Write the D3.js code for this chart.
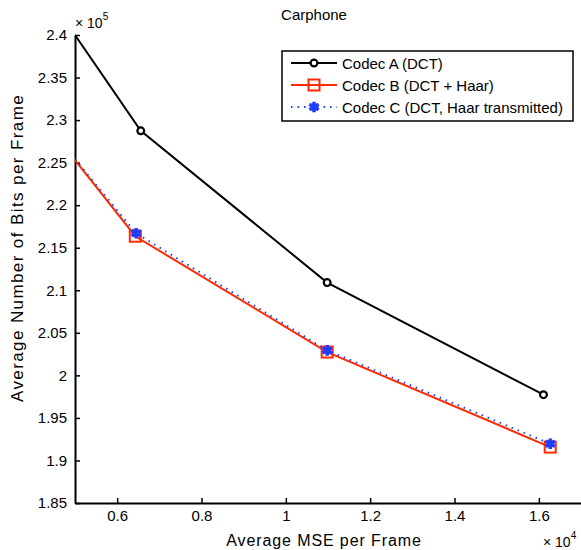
<!DOCTYPE html>
<html>
<head>
<meta charset="utf-8">
<script src="https://cdn.jsdelivr.net/npm/d3@7"></script>
<style>
  body { margin: 0; background: #fff; }
  svg text { font-family: "Liberation Sans", Arial, sans-serif; fill: #000; }
</style>
</head>
<body>
<div class="box"></div>
<script>
// values (x in 1e4, y in 1e5)
const mseA = [0.5, 0.656, 1.098, 1.611]
const bitsA = [2.4, 2.2874, 2.109, 1.9773]
const mseB = [0.5, 0.643, 1.098, 1.627]
const bitsB = [2.253, 2.1635, 2.0274, 1.9157]
const mseC = [0.5, 0.645, 1.098, 1.627]
const bitsC = [2.254, 2.167, 2.0294, 1.9196]

const seriesNames = ['Codec A (DCT)', 'Codec B (DCT + Haar)', 'Codec C (DCT, Haar transmitted)']
const xTicks = [0.6, 0.8, 1, 1.2, 1.4, 1.6]
const yTicks = [1.85, 1.9, 1.95, 2, 2.05, 2.1, 2.15, 2.2, 2.25, 2.3, 2.35, 2.4]

const boxWidth = 581
const boxHeight = 550
const plotLeft = 75, plotRight = 581, plotTop = 35, plotBottom = 503

const x = d3.scaleLinear().domain([0.5, 1.7]).range([plotLeft, plotRight])
const y = d3.scaleLinear().domain([1.85, 2.4]).range([plotBottom, plotTop])

const svg = d3.select('.box')
    .append('svg')
    .attr('width', boxWidth)
    .attr('height', boxHeight)

svg.append('defs').append('clipPath').attr('id', 'plotclip')
    .append('rect')
    .attr('x', plotLeft).attr('y', plotTop - 1)
    .attr('width', plotRight - plotLeft).attr('height', plotBottom - plotTop + 2)

// axes
const xAxis = svg.append('g')
    .attr('transform', `translate(0, ${plotBottom})`)
    .call(d3.axisBottom(x).tickValues(xTicks).tickSizeInner(-5).tickSizeOuter(0).tickPadding(7)
        .tickFormat(d => String(+d.toFixed(1))))
const yAxis = svg.append('g')
    .attr('transform', `translate(${plotLeft}, 0)`)
    .call(d3.axisLeft(y).tickValues(yTicks).tickSizeInner(-5).tickSizeOuter(0).tickPadding(8)
        .tickFormat(d => String(+d.toFixed(2))))

;[xAxis, yAxis].forEach(a => {
    a.select('.domain').attr('stroke', '#000').attr('stroke-width', 2)
    a.selectAll('.tick line').attr('stroke', '#000').attr('stroke-width', 1.5)
    a.selectAll('.tick text').attr('font-size', 15).attr('fill', '#000')
})

// text
svg.append('text').attr('x', 314).attr('y', 20).attr('text-anchor', 'middle')
    .attr('font-size', 15).text('Carphone')
svg.append('text').attr('x', 324).attr('y', 546).attr('text-anchor', 'middle')
    .attr('font-size', 16).attr('letter-spacing', 0.9).text('Average MSE per Frame')
svg.append('text').attr('transform', 'translate(23, 248) rotate(-90)').attr('text-anchor', 'middle')
    .attr('font-size', 17).attr('letter-spacing', 1.4).text('Average Number of Bits per Frame')

const exp5 = svg.append('text').attr('x', 75).attr('y', 28).attr('font-size', 14)
exp5.append('tspan').text('\u00d7 10')
exp5.append('tspan').attr('font-size', 10).attr('dy', -8).text('5')
const exp4 = svg.append('text').attr('x', 543).attr('y', 547).attr('font-size', 14)
exp4.append('tspan').text('\u00d7 10')
exp4.append('tspan').attr('font-size', 10).attr('dy', -8).text('4')

// series
const series = [
    { name: seriesNames[0], xs: mseA, ys: bitsA, color: '#000000', dash: null, marker: 'circle' },
    { name: seriesNames[1], xs: mseB, ys: bitsB, color: '#ff2a00', dash: null, marker: 'square' },
    { name: seriesNames[2], xs: mseC, ys: bitsC, color: '#1f3dff', dash: '1.5,5', marker: 'star' }
]

const line = d3.line().x(d => x(d[0])).y(d => y(d[1]))

function drawMarker(g, type, color) {
    if (type === 'circle') {
        g.append('circle').attr('r', 3.4).attr('fill', '#fff').attr('stroke', color).attr('stroke-width', 2.2)
    } else if (type === 'square') {
        g.append('rect').attr('x', -5.5).attr('y', -5.5).attr('width', 11).attr('height', 11)
            .attr('fill', 'none').attr('stroke', color).attr('stroke-width', 2)
    } else {
        g.append('path').attr('d', d3.symbol(d3.symbolAsterisk, 80)())
            .attr('fill', 'none').attr('stroke', color).attr('stroke-width', 3.5)
        g.append('circle').attr('r', 3.5).attr('fill', color)
    }
}

const plot = svg.append('g').attr('clip-path', 'url(#plotclip)')

series.forEach(s => {
    const pts = s.xs.map((v, i) => [v, s.ys[i]])
    plot.append('path')
        .datum(pts)
        .attr('d', line)
        .attr('fill', 'none')
        .attr('stroke', s.color)
        .attr('stroke-width', 2)
        .attr('stroke-dasharray', s.dash)
    pts.filter(p => p[0] > x.domain()[0]).forEach(p => {
        const g = plot.append('g').attr('transform', `translate(${x(p[0])}, ${y(p[1])})`)
        drawMarker(g, s.marker, s.color)
    })
})

// legend
const legend = svg.append('g')
legend.append('rect').attr('x', 282).attr('y', 51).attr('width', 291).attr('height', 70)
    .attr('fill', '#fff').attr('stroke', '#000').attr('stroke-width', 1.5)
series.forEach((s, i) => {
    const ly = 63 + i * 22
    legend.append('line').attr('x1', 291).attr('x2', 337).attr('y1', ly).attr('y2', ly)
        .attr('stroke', s.color).attr('stroke-width', 2).attr('stroke-dasharray', s.dash)
    drawMarker(legend.append('g').attr('transform', `translate(314, ${ly})`), s.marker, s.color)
    legend.append('text').attr('x', 342).attr('y', ly + 5.5).attr('font-size', 15).text(s.name)
})
</script>
</body>
</html>
